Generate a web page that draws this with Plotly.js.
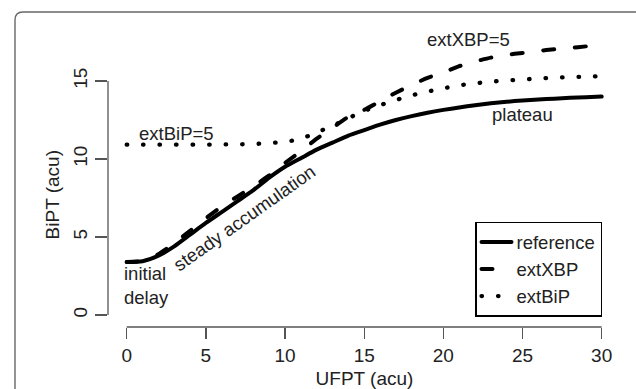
<!DOCTYPE html>
<html>
<head>
<meta charset="utf-8">
<script src="https://cdn.plot.ly/plotly-3.0.1.min.js"></script>
<style>
html,body{margin:0;padding:0;background:#fff;overflow:hidden;}
#chart{width:636px;height:389px;}
path.js-line{stroke-linecap:round;}
</style>
</head>
<body>
<div id="chart"></div>
<script>
// UFPT (acu) values
const ufpt = [0,1,2,3,4,5,6,7,8,9,10,11,12,13,14,15,16,17,18,19,20,21,22,23,24,25,26,27,28,29,30];
// BiPT (acu) for each scenario
const reference = [3.40,3.45,3.80,4.40,5.15,5.90,6.60,7.30,8.00,8.80,9.50,10.05,10.60,11.05,11.50,11.85,12.20,12.50,12.75,12.97,13.15,13.30,13.45,13.57,13.67,13.75,13.82,13.87,13.92,13.96,14.00];
const extXBP = [3.40,3.47,3.90,4.60,5.40,6.20,6.95,7.60,8.25,8.95,9.75,10.50,11.30,12.00,12.70,13.15,13.70,14.25,14.75,15.20,15.55,15.95,16.25,16.50,16.68,16.80,16.93,17.03,17.12,17.22,17.30];
const extBiP = [10.92,10.92,10.92,10.92,10.92,10.92,10.93,10.94,10.96,11.02,11.10,11.30,11.70,12.13,12.62,13.08,13.45,13.78,14.08,14.32,14.53,14.72,14.85,14.96,15.03,15.10,15.16,15.21,15.25,15.28,15.30];
const seriesNames = ["reference","extXBP","extBiP"];
const xTicks = [0,5,10,15,20,25,30];
const yTicks = [0,5,10,15];

const FONT = "Liberation Sans, Arial, Helvetica, sans-serif";
const TXT = "#222";
const AX = "#555";
const FRAME = "#666";

const traces = [
  {x: ufpt, y: reference, name: seriesNames[0], mode: "lines",
   line: {color: "#000", width: 4, shape: "spline", smoothing: 0.6}},
  {x: ufpt, y: extXBP, name: seriesNames[1], mode: "lines",
   line: {color: "#000", width: 4, dash: "11px,20.7px", shape: "spline", smoothing: 0.6}},
  {x: ufpt, y: extBiP, name: seriesNames[2], mode: "lines",
   line: {color: "#000", width: 4.3, dash: "0.5px,16px", shape: "spline", smoothing: 0.6}}
];

const layout = {
  width: 636, height: 389,
  margin: {l: 108, r: 15, t: 13, b: 62, pad: 0},
  paper_bgcolor: "#fff", plot_bgcolor: "#fff",
  font: {family: FONT, size: 18.5, color: TXT},
  showlegend: true,
  legend: {
    x: 0.963, y: 0.032, xanchor: "right", yanchor: "bottom",
    bordercolor: "#000", borderwidth: 1.5, bgcolor: "#fff",
    font: {family: FONT, size: 18.5, color: TXT},
    tracegroupgap: 0, itemwidth: 30
  },
  xaxis: {
    range: [-1.181, 31.22], showgrid: false, zeroline: false, showline: false,
    tickmode: "array", tickvals: xTicks, ticktext: xTicks.map(String),
    ticks: "outside", ticklen: 11, tickwidth: 1.3, tickcolor: AX,
    tickfont: {family: FONT, size: 19, color: TXT},
    title: {text: "UFPT (acu)", font: {family: FONT, size: 19, color: TXT}, standoff: 6}
  },
  yaxis: {
    range: [-0.769, 19.36], showgrid: false, zeroline: false, showline: false,
    tickmode: "array", tickvals: yTicks, ticktext: yTicks.map(String),
    ticks: "outside", ticklen: 12, tickwidth: 1.3, tickcolor: AX, tickangle: -90,
    tickfont: {family: FONT, size: 19, color: TXT}
  },
  shapes: [
    {type: "line", xref: "x", yref: "paper", x0: xTicks[0], x1: xTicks[xTicks.length-1], y0: 0, y1: 0,
     line: {color: AX, width: 1.3}},
    {type: "line", xref: "paper", yref: "y", x0: 0, x1: 0, y0: yTicks[0], y1: yTicks[yTicks.length-1],
     line: {color: AX, width: 1.3}},
    // outer frame of the figure panel (rounded top-left corner)
    {type: "line", xref: "paper", yref: "paper", x0: -0.1813, x1: -0.1813, y0: -0.25, y1: 0.978,
     line: {color: FRAME, width: 1.4}},
    {type: "path", xref: "paper", yref: "paper",
     path: "M -0.1813,0.978 Q -0.1813,1.0032 -0.1657,1.0032",
     line: {color: FRAME, width: 1.4}},
    {type: "line", xref: "paper", yref: "paper", x0: -0.1657, x1: 1.0292, y0: 1.0032, y1: 1.0032,
     line: {color: FRAME, width: 1.4}}
  ],
  annotations: [
    {xref: "paper", yref: "y", x: -0.1082, y: 7.7, text: "BiPT (acu)", textangle: -90,
     xanchor: "center", yanchor: "middle",
     showarrow: false, font: {family: FONT, size: 19, color: TXT}},
    {xref: "x", yref: "y", x: 21.6, y: 17.63, text: "extXBP=5", showarrow: false,
     font: {family: FONT, size: 18.5, color: TXT}},
    {xref: "x", yref: "y", x: 25.0, y: 12.85, text: "plateau", showarrow: false,
     font: {family: FONT, size: 18.5, color: TXT}},
    {xref: "x", yref: "y", x: 3.13, y: 11.65, text: "extBiP=5", showarrow: false,
     font: {family: FONT, size: 18.5, color: TXT}},
    {xref: "x", yref: "y", x: -0.32, y: 1.9, text: "initial<br>delay", showarrow: false,
     xanchor: "left", align: "left", font: {family: FONT, size: 18.5, color: TXT}},
    {xref: "x", yref: "y", x: 7.47, y: 6.25, text: "steady accumulation", showarrow: false,
     textangle: -35.3, font: {family: FONT, size: 18.5, color: TXT}}
  ]
};

Plotly.newPlot("chart", traces, layout, {staticPlot: true, displayModeBar: false});
</script>
</body>
</html>
